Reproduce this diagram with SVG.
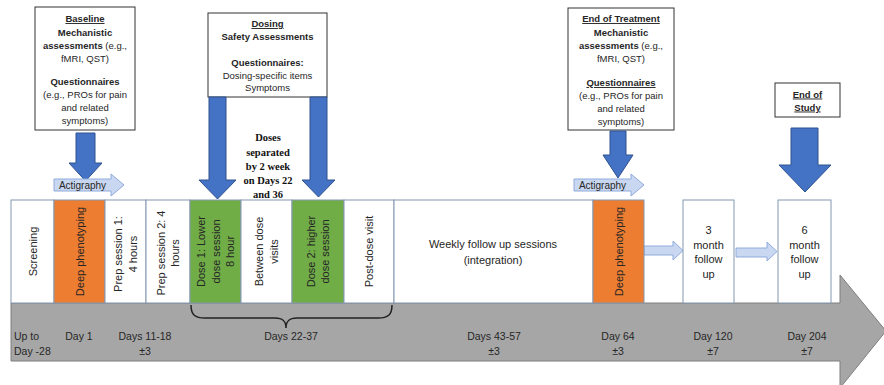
<svg xmlns="http://www.w3.org/2000/svg" width="884" height="385" viewBox="0 0 884 385">
<style>
.bg{fill:#fff}
.note{fill:#fff;stroke:#333;stroke-width:1}
.t{font-family:"Liberation Sans",Arial,sans-serif;fill:#262626}
.nt{font-size:9.5px;text-anchor:middle}
.b{font-weight:bold}
.u{text-decoration:underline}
.blue{fill:#4472c4;stroke:#2f528f;stroke-width:1}
.light{fill:#c9d8f0;stroke:#8faadc;stroke-width:1}
.cell{fill:#fff;stroke:#8497b0;stroke-width:1}
.org{fill:#ed7d31;stroke:#8497b0;stroke-width:1}
.grn{fill:#70ad47;stroke:#8497b0;stroke-width:1}
.rot{font-size:11px;text-anchor:middle}
.day{font-size:10.5px;text-anchor:middle}
.ser{font-family:"Liberation Serif","Times New Roman",serif;font-weight:bold;font-size:10.5px;text-anchor:middle;fill:#111}
</style>
<rect x="0" y="0" width="884" height="385" class="bg"/>

<!-- timeline arrow -->
<g id="timeline">
<polygon points="11,303 840,303 840,275 886,331 840,388 840,361 11,361" fill="#a6a6a6" stroke="#7f7f7f" stroke-width="1"/>
</g>

<!-- Baseline note -->
<g id="baseline">
<rect x="35" y="7" width="100" height="123" class="note"/>
<text class="t nt b u" x="85" y="22">Baseline</text>
<text class="t nt b" x="85" y="36">Mechanistic</text>
<text class="t nt" x="85" y="49"><tspan class="b">assessments</tspan> (e.g.,</text>
<text class="t nt" x="85" y="62">fMRI, QST)</text>
<text class="t nt b" x="85" y="85">Questionnaires</text>
<text class="t nt" x="85" y="98">(e.g., PROs for pain</text>
<text class="t nt" x="85" y="111">and related</text>
<text class="t nt" x="85" y="124">symptoms)</text>
</g>

<!-- Dosing note -->
<g id="dosing">
<rect x="208" y="13" width="119" height="84" class="note"/>
<text class="t nt b u" x="267.5" y="27">Dosing</text>
<text class="t nt b" x="267.5" y="40">Safety Assessments</text>
<text class="t nt b" x="267.5" y="66">Questionnaires:</text>
<text class="t nt" x="267.5" y="78.5">Dosing-specific items</text>
<text class="t nt" x="267.5" y="91">Symptoms</text>
</g>

<g id="doses-note">
<text class="ser" x="268" y="141">Doses</text>
<text class="ser" x="268" y="155.5">separated</text>
<text class="ser" x="268" y="170">by 2 week</text>
<text class="ser" x="268" y="184">on Days 22</text>
<text class="ser" x="268" y="197.5">and 36</text>
</g>

<!-- End of Treatment note -->
<g id="end-of-treatment">
<rect x="568" y="8" width="106" height="122" class="note"/>
<text class="t nt b u" x="621" y="22">End of Treatment</text>
<text class="t nt b" x="621" y="36">Mechanistic</text>
<text class="t nt" x="621" y="49"><tspan class="b">assessments</tspan> (e.g.,</text>
<text class="t nt" x="621" y="62">fMRI, QST)</text>
<text class="t nt b u" x="621" y="86">Questionnaires</text>
<text class="t nt" x="621" y="99">(e.g., PROs for pain</text>
<text class="t nt" x="621" y="112">and related</text>
<text class="t nt" x="621" y="125">symptoms)</text>
</g>

<!-- End of Study note -->
<g id="end-of-study">
<rect x="775" y="83" width="65" height="34" class="note"/>
<text class="t nt b u" x="807.5" y="97.5">End of</text>
<text class="t nt b u" x="807.5" y="110.5">Study</text>
</g>

<!-- Connectors -->
<g id="connectors">
<polygon class="blue" points="76,133 95,133 95,163 102,163 85.5,181 69,163 76,163"/>
<polygon class="blue" points="209,97 226,97 226,180 236,180 217.5,199 199,180 209,180"/>
<polygon class="blue" points="310,97 327,97 327,180 335,180 318.5,197 302,180 310,180"/>
<polygon class="blue" points="610,131 626,131 626,155 633,155 618,178 603,155 610,155"/>
<polygon class="blue" points="791,128 818,128 818,165 831,165 805,192 779,165 791,165"/>
<polygon class="light" points="54,179 111,179 111,174 124,185 111,196 111,191 54,191"/>
<polygon class="light" points="574,179 631,179 631,174 644,185 631,196 631,191 574,191"/>
<polygon class="light" points="644,246 673,246 673,241 683,250.5 673,260 673,255 644,255"/>
<polygon class="light" points="736,248 767,248 767,242 777,251.5 767,261 767,257 736,257"/>
<path d="M191,305 C191,315 195,318 205,318 L275,318 C283,318 286,321 286,328 C286,321 289,318 297,318 L378,318 C388,318 392,315 392,305" fill="none" stroke="#222" stroke-width="1.5"/>
</g>
<g id="actigraphy-labels">
<text class="t" x="82.5" y="189" font-size="10" text-anchor="middle" fill="#1f2d4d">Actigraphy</text>
<text class="t" x="602.5" y="189" font-size="10" text-anchor="middle" fill="#1f2d4d">Actigraphy</text>
</g>

<!-- Phase cells -->
<g id="screening">
<rect x="11" y="200" width="43" height="103" class="cell"/>
<text class="t rot" transform="translate(32.5,251.5) rotate(-90)" y="4">Screening</text>
</g>
<g id="deep-phenotyping-1">
<rect x="54" y="200" width="51" height="103" class="org"/>
<text class="t rot" transform="translate(79.5,251.5) rotate(-90)" y="4">Deep phenotyping</text>
</g>
<g id="prep-1">
<rect x="105" y="200" width="41" height="103" class="cell"/>
<text class="t rot" transform="translate(125.5,254) rotate(-90)"><tspan x="0" y="-3.5">Prep session 1:</tspan><tspan x="0" y="11">4 hours</tspan></text>
</g>
<g id="prep-2">
<rect x="146" y="200" width="44" height="103" class="cell"/>
<text class="t rot" transform="translate(168,253) rotate(-90)"><tspan x="0" y="-3.5">Prep session 2: 4</tspan><tspan x="0" y="11">hours</tspan></text>
</g>
<g id="dose-1">
<rect x="190" y="200" width="51" height="103" class="grn"/>
<text class="t rot" transform="translate(215.5,251.5) rotate(-90)"><tspan x="0" y="-10.5">Dose 1: Lower</tspan><tspan x="0" y="4">dose session</tspan><tspan x="0" y="18.5">8 hour</tspan></text>
</g>
<g id="between-dose">
<rect x="241" y="200" width="51" height="103" class="cell"/>
<text class="t rot" transform="translate(266.5,251.5) rotate(-90)"><tspan x="0" y="-3.5">Between dose</tspan><tspan x="0" y="11">visits</tspan></text>
</g>
<g id="dose-2">
<rect x="292" y="200" width="52" height="103" class="grn"/>
<text class="t rot" transform="translate(318,251.5) rotate(-90)"><tspan x="0" y="-3.5">Dose 2: higher</tspan><tspan x="0" y="11">dose session</tspan></text>
</g>
<g id="post-dose">
<rect x="344" y="200" width="50" height="103" class="cell"/>
<text class="t rot" transform="translate(369,251.5) rotate(-90)" y="4">Post-dose visit</text>
</g>
<g id="weekly">
<rect x="394" y="200" width="199" height="103" class="cell"/>
<text class="t" font-size="11" text-anchor="middle" x="493" y="248">Weekly follow up sessions</text>
<text class="t" font-size="11" text-anchor="middle" x="493" y="263.5">(integration)</text>
</g>
<g id="deep-phenotyping-2">
<rect x="593" y="200" width="51" height="103" class="org"/>
<text class="t rot" transform="translate(618.5,251.5) rotate(-90)" y="4">Deep phenotyping</text>
</g>
<g id="month-3">
<rect x="683" y="200" width="51" height="103" class="cell"/>
<text class="t" font-size="11" text-anchor="middle" x="708.5" y="234">3</text>
<text class="t" font-size="11" text-anchor="middle" x="708.5" y="248.5">month</text>
<text class="t" font-size="11" text-anchor="middle" x="708.5" y="263">follow</text>
<text class="t" font-size="11" text-anchor="middle" x="708.5" y="277.5">up</text>
</g>
<g id="month-6">
<rect x="778" y="200" width="53" height="103" class="cell"/>
<text class="t" font-size="11" text-anchor="middle" x="804.5" y="234">6</text>
<text class="t" font-size="11" text-anchor="middle" x="804.5" y="248.5">month</text>
<text class="t" font-size="11" text-anchor="middle" x="804.5" y="263">follow</text>
<text class="t" font-size="11" text-anchor="middle" x="804.5" y="277.5">up</text>
</g>

<!-- Day labels -->
<g id="day-labels">
<text class="t" font-size="10.5" x="14" y="340">Up to</text>
<text class="t" font-size="10.5" x="14" y="355">Day -28</text>
<text class="t day" x="79" y="340">Day 1</text>
<text class="t day" x="145" y="340">Days 11-18</text>
<text class="t day" x="145" y="355">±3</text>
<text class="t day" x="291" y="340">Days 22-37</text>
<text class="t day" x="494" y="340">Days 43-57</text>
<text class="t day" x="494" y="355">±3</text>
<text class="t day" x="618" y="340">Day 64</text>
<text class="t day" x="618" y="355">±3</text>
<text class="t day" x="713" y="340">Day 120</text>
<text class="t day" x="713" y="355">±7</text>
<text class="t day" x="807" y="340">Day 204</text>
<text class="t day" x="807" y="355">±7</text>
</g>
</svg>
